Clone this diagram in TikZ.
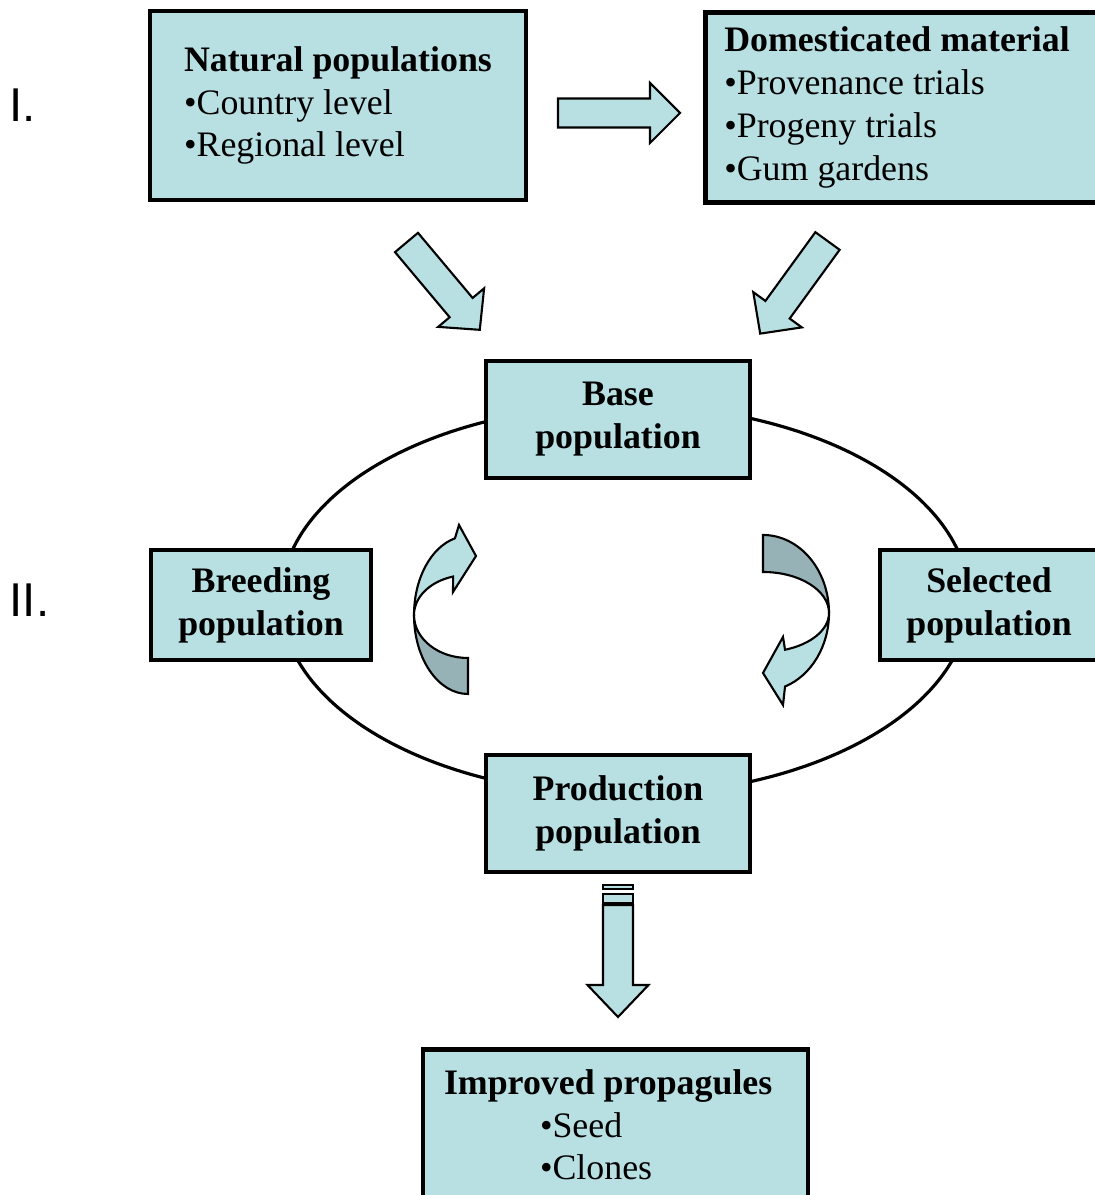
\documentclass[tikz,border=0pt]{standalone}
\usepackage{fontspec}
\setmainfont{Liberation Serif}
\newfontfamily\stagefont{Liberation Sans}
\definecolor{cyclefill}{HTML}{B8E0E3}
\definecolor{cycleshade}{HTML}{96B2B6}

\begin{document}
\begin{tikzpicture}[x=1cm,y=1cm,
    stagebox/.style={draw,line width=1.3pt,fill=cyclefill,inner sep=0pt,
      font=\fontsize{10.2}{12.2}\selectfont},
    headbox/.style={stagebox,font=\fontsize{10.2}{12.2}\selectfont\bfseries,align=center},
    stagelabel/.style={anchor=base west,inner sep=0pt,
      font=\stagefont\fontsize{13.5}{16}\selectfont},
    fatarrow/.style={draw,line width=.6pt,fill=cyclefill,line join=miter},
    twistback/.style={draw,line width=.6pt,fill=cycleshade},
    cycleline/.style={draw,line width=.9pt}]
    \useasboundingbox (0,0) rectangle (10.95,11.95);

    % breeding cycle
    \draw[cycleline] (6.25,5.95) ellipse [x radius=3.44,y radius=1.95];

    % stage labels
    \node[stagelabel] (stageone) at (.09,10.73) {I.};
    \node[stagelabel] (stagetwo) at (.09,5.78) {II.};

    % sources
    \node[stagebox,minimum width=3.76cm,minimum height=1.89cm,align=left]
      (natural) at (3.38,10.895)
      {\textbf{Natural populations}\\•Country level\\•Regional level};
    \node[stagebox,anchor=north west,minimum height=1.90cm,
      text width=3.9cm,inner xsep=.19cm,align=flush left] (domestic) at (7.03,11.85)
      {\textbf{Domesticated material}\\•Provenance trials\\•Progeny trials\\•Gum gardens};

    % populations
    \node[headbox,minimum width=2.64cm,minimum height=1.17cm] (base) at (6.18,7.755)
      {Base\\population};
    \node[headbox,minimum width=2.20cm,minimum height=1.10cm] (breeding) at (2.61,5.90)
      {Breeding\\population};
    \node[headbox,minimum width=2.18cm,minimum height=1.10cm] (selected) at (9.89,5.90)
      {Selected\\population};
    \node[headbox,minimum width=2.64cm,minimum height=1.17cm] (production) at (6.18,3.815)
      {Production\\population};
    \node[stagebox,anchor=north,minimum width=3.85cm,text width=3.43cm,
      inner ysep=.2cm,align=flush left] (improved) at (6.155,1.48)
      {\textbf{Improved propagules}\\\hspace*{.96cm}•Seed\\
       \hspace*{.96cm}•Clones\rule[-.6cm]{0pt}{.6cm}};

    % block arrows
    \draw[fatarrow,shift={(5.58,10.82)}] (0,-.145) -- (.92,-.145) -- (.92,-.30)
      -- (1.22,0) -- (.92,.30) -- (.92,.145) -- (0,.145) -- cycle;
    \draw[fatarrow,shift={(4.065,9.525)},rotate=-50] (0,-.15) -- (.85,-.15)
      -- (.85,-.30) -- (1.14,0) -- (.85,.30) -- (.85,.15) -- (0,.15) -- cycle;
    \draw[fatarrow,shift={(8.275,9.54)},rotate=-126] (0,-.15) -- (.85,-.15)
      -- (.85,-.30) -- (1.145,0) -- (.85,.30) -- (.85,.15) -- (0,.15) -- cycle;
    \draw[fatarrow,shift={(6.18,2.90)},rotate=-90] (0,-.15) -- (.80,-.15)
      -- (.80,-.305) -- (1.12,0) -- (.80,.305) -- (.80,.15) -- (0,.15) -- cycle;
    \draw[fatarrow] (6.03,3.06) rectangle (6.33,3.10);
    \draw[fatarrow] (6.03,2.92) rectangle (6.33,3.01);

    % twisted arrows inside the cycle
    \begin{scope}[shift={(4.68,5.80)}]
      \draw[twistback] (0,-.43) -- (0,-.79)
        arc[start angle=270,end angle=180,x radius=.54,y radius=.79]
        arc[start angle=180,end angle=270,x radius=.54,y radius=.43] -- cycle;
      \draw[fatarrow] (-.54,0)
        arc[start angle=180,end angle=104,x radius=.54,y radius=.79]
        -- (-.09,.90) -- (.08,.59) -- (-.15,.23) -- (106:.54 and .40)
        arc[start angle=106,end angle=180,x radius=.54,y radius=.40] -- cycle;
    \end{scope}
    \begin{scope}[shift={(7.63,5.82)}]
      \draw[twistback] (0,.78)
        arc[start angle=90,end angle=0,x radius=.66,y radius=.78]
        arc[start angle=0,end angle=90,x radius=.66,y radius=.41] -- cycle;
      \draw[fatarrow] (.66,0)
        arc[start angle=0,end angle=-70.5,x radius=.66,y radius=.78]
        -- (.20,-.92) -- (0,-.60) -- (.20,-.24) -- (-70.5:.66 and .39)
        arc[start angle=-70.5,end angle=0,x radius=.66,y radius=.39] -- cycle;
    \end{scope}
  \end{tikzpicture}
\end{document}
